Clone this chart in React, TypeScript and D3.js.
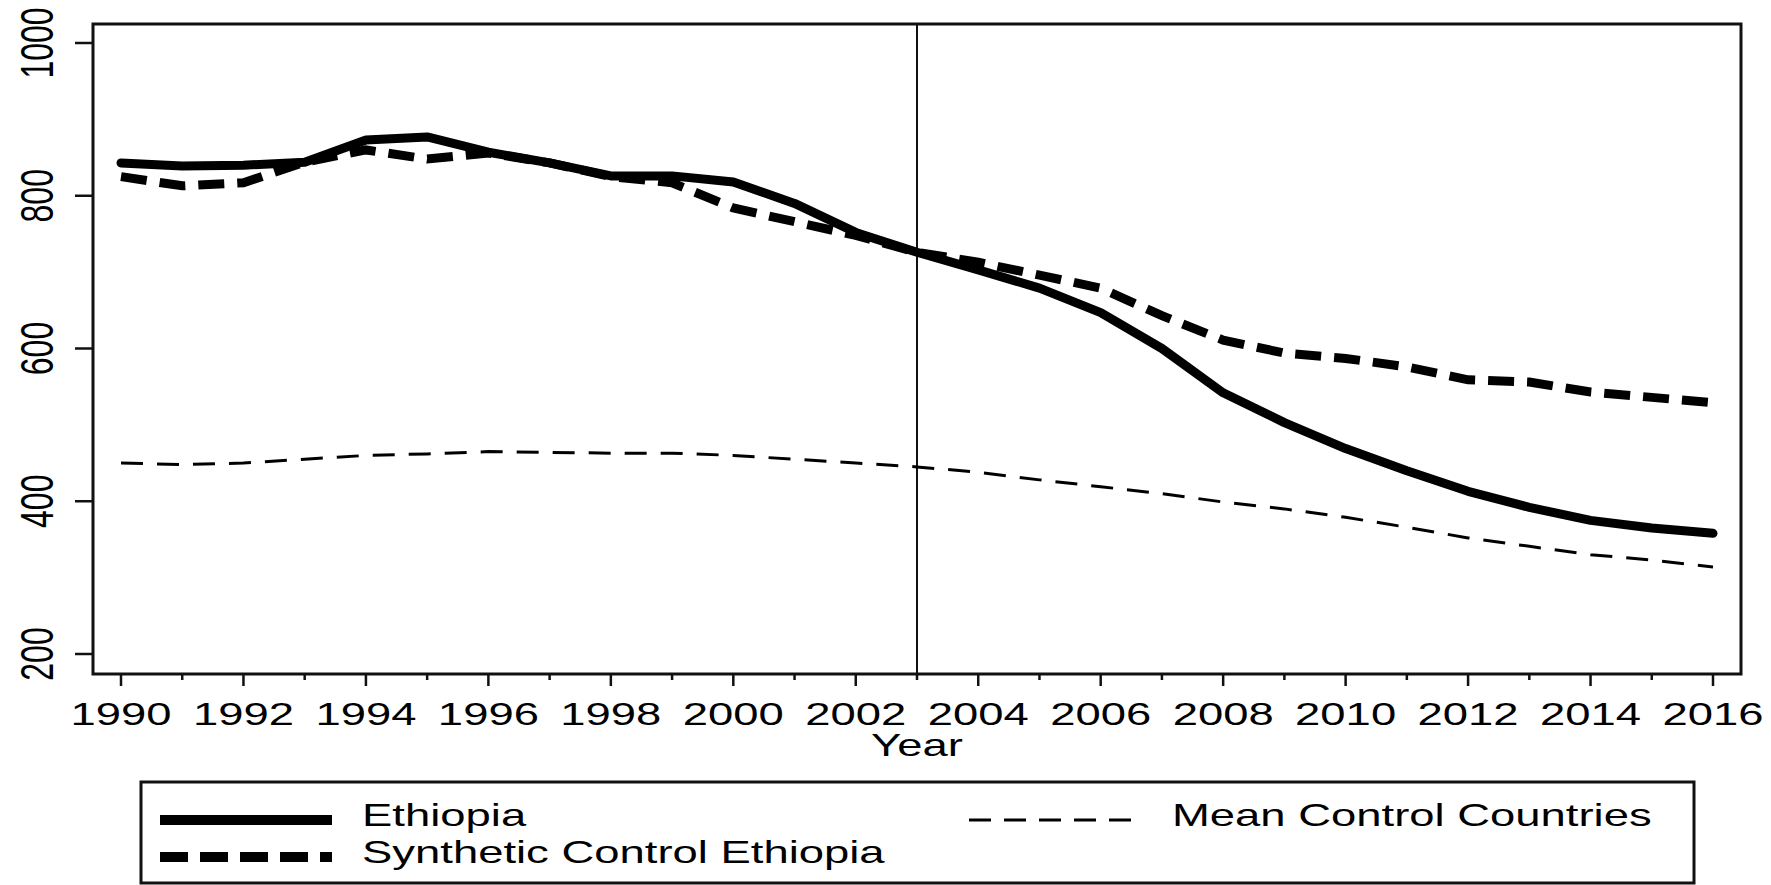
import React from "react";
import * as d3 from "d3";

// Years on the horizontal axis
const years = [
  1990, 1991, 1992, 1993, 1994, 1995, 1996, 1997, 1998, 1999, 2000, 2001, 2002,
  2003, 2004, 2005, 2006, 2007, 2008, 2009, 2010, 2011, 2012, 2013, 2014, 2015, 2016,
];

// Ethiopia (solid)
const ethiopia = [
  843, 839, 840, 844, 873, 877, 857, 843, 826, 826, 818, 790, 752,
  726, 703, 679, 647, 600, 542, 503, 469, 440, 413, 392, 375, 365, 358,
];

// Synthetic control Ethiopia (thick dashed)
const synthetic = [
  825, 813, 817, 844, 860, 848, 856, 843, 825, 817, 784, 766, 748,
  726, 713, 696, 679, 643, 611, 594, 587, 576, 559, 556, 543, 536, 529,
];

// Mean of control countries (thin dashed)
const meanControl = [
  450, 448, 450, 455, 460, 462, 465, 464, 463, 463, 460, 455, 450,
  445, 438, 428, 419, 410, 399, 390, 379, 366, 352, 341, 330, 323, 314,
];

const yTicks = [200, 400, 600, 800, 1000];
const xMajorTicks = [1990, 1992, 1994, 1996, 1998, 2000, 2002, 2004, 2006, 2008, 2010, 2012, 2014, 2016];
const treatmentYear = 2003;

const legendItems = ["Ethiopia", "Synthetic Control Ethiopia", "Mean Control Countries"];

const W = 1771;
const H = 885;
const FONT = "'Liberation Sans', Arial, Helvetica, sans-serif";
const SX = 1.42; // horizontal stretch of the lettering
const FS = 32;

export default function App() {
  const x = d3.scaleLinear().domain([1990, 2016]).range([121, 1713]);
  const y = d3.scaleLinear().domain([200, 1000]).range([654, 43]);

  const frame = { left: 93, right: 1741, top: 24, bottom: 674 };

  const line = (vals: number[]) =>
    d3
      .line<number>()
      .x((_, i) => x(years[i]))
      .y((d) => y(d))(vals) as string;

  const txt = (
    s: string,
    tx: number,
    ty: number,
    anchor: "start" | "middle" | "end" = "middle",
    rotate = false,
    key?: string | number
  ) => (
    <text
      key={key}
      transform={`translate(${tx},${ty}) scale(${SX},1)${rotate ? " rotate(-90)" : ""}`}
      textAnchor={anchor}
      fontFamily={FONT}
      fontSize={FS}
      fill="#000"
    >
      {s}
    </text>
  );

  return (
    <svg
      width={W}
      height={H}
      style={{ position: "absolute", left: 0, top: 0, background: "#fff" }}
    >
      <rect x={0} y={0} width={W} height={H} fill="#fff" />

      {/* plot region frame */}
      <rect
        x={frame.left}
        y={frame.top}
        width={frame.right - frame.left}
        height={frame.bottom - frame.top}
        fill="none"
        stroke="#111"
        strokeWidth={3}
      />

      {/* y axis ticks and labels */}
      {yTicks.map((t) => (
        <g key={`y${t}`}>
          <line x1={75} x2={frame.left} y1={y(t)} y2={y(t)} stroke="#111" strokeWidth={2.5} />
          {txt(String(t), 53, y(t), "middle", true)}
        </g>
      ))}

      {/* x axis ticks: every year, labels on even years */}
      {years.map((yr) => {
        const major = xMajorTicks.includes(yr);
        return (
          <line
            key={`xt${yr}`}
            x1={x(yr)}
            x2={x(yr)}
            y1={frame.bottom}
            y2={frame.bottom + (major ? 12 : 6)}
            stroke="#111"
            strokeWidth={2.5}
          />
        );
      })}
      {xMajorTicks.map((yr) => txt(String(yr), x(yr), 725, "middle", false, `xl${yr}`))}
      {txt("Year", (frame.left + frame.right) / 2, 756)}

      {/* treatment year marker */}
      <line
        x1={x(treatmentYear)}
        x2={x(treatmentYear)}
        y1={frame.top}
        y2={frame.bottom}
        stroke="#111"
        strokeWidth={2}
      />

      {/* series */}
      <path d={line(meanControl)} fill="none" stroke="#000" strokeWidth={3} strokeDasharray="22 14" />
      <path d={line(synthetic)} fill="none" stroke="#000" strokeWidth={9} strokeDasharray="26 13" />
      <path
        d={line(ethiopia)}
        fill="none"
        stroke="#000"
        strokeWidth={9}
        strokeLinejoin="round"
        strokeLinecap="round"
      />

      {/* legend */}
      <rect x={141} y={782} width={1694 - 141} height={101} fill="none" stroke="#111" strokeWidth={3} />
      <line x1={160} x2={332} y1={820} y2={820} stroke="#000" strokeWidth={10} />
      {txt(legendItems[0], 362, 826, "start")}
      <line x1={160} x2={332} y1={857} y2={857} stroke="#000" strokeWidth={10} strokeDasharray="28 12" />
      {txt(legendItems[1], 362, 863, "start")}
      <line x1={969} x2={1144} y1={820} y2={820} stroke="#000" strokeWidth={3} strokeDasharray="22 13" />
      {txt(legendItems[2], 1172, 826, "start")}
    </svg>
  );
}
